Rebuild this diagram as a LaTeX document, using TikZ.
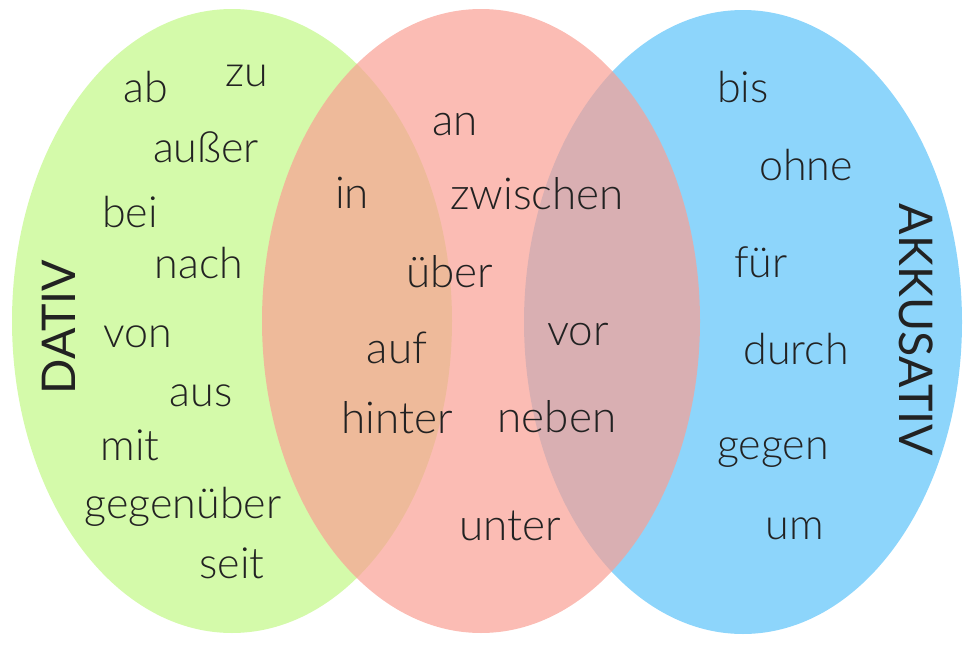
\documentclass[tikz,border=0pt]{standalone}
\usepackage{fontspec}
\setmainfont{Lato}
\newfontfamily\thinfont{Lato Light}
\definecolor{dativgreen}{RGB}{212,250,170}
\definecolor{akkblue}{RGB}{141,213,251}
\definecolor{wechselred}{RGB}{250,160,148}
\definecolor{wordgray}{RGB}{34,34,34}
\begin{document}
\begin{tikzpicture}[x=1pt,y=-1pt,
    word/.style ={anchor=base, text=wordgray, inner sep=0pt, font=\thinfont\fontsize{43}{50}\selectfont},
    bigword/.style ={word, font=\thinfont\fontsize{44}{52}\selectfont},
    casename/.style ={anchor=base, text=wordgray, inner sep=0pt, font=\fontsize{46.5}{54}\selectfont}]
   \useasboundingbox (0,0) rectangle (975,645);
   % circles
   \fill[dativgreen] (232,321) ellipse [x radius=220, y radius=312];
   \fill[akkblue] (743,322) ellipse [x radius=219, y radius=312];
   \fill[wechselred, opacity=0.7] (481,321) ellipse [x radius=219, y radius=312];
   % dativ
   \node[casename, rotate=90] (dativ) at (75,327) {DATIV};
   \node[word] (ab) at (146,102) {ab};
   \node[word] (zu) at (247,86) {zu};
   \node[word] (ausser) at (206,162) {außer};
   \node[word] (bei) at (130,227) {bei};
   \node[word] (nach) at (199,278) {nach};
   \node[word] (von) at (138,347) {von};
   \node[word] (aus) at (201,406) {aus};
   \node[word] (mit) at (130,460) {mit};
   \node[word] (gegenueber) at (183,518) {gegenüber};
   \node[word] (seit) at (232,578) {seit};
   % wechsel
   \node[bigword] (an) at (455,135) {an};
   \node[bigword] (in) at (352,208) {in};
   \node[bigword] (zwischen) at (537,209) {zwischen};
   \node[bigword] (ueber) at (450,287) {über};
   \node[bigword] (auf) at (397,363) {auf};
   \node[bigword] (vor) at (578,345) {vor};
   \node[bigword] (hinter) at (397,433) {hinter};
   \node[bigword] (neben) at (557,432) {neben};
   \node[bigword] (unter) at (510,540) {unter};
   % akkusativ
   \node[casename, rotate=-90] (akkusativ) at (899,330) {AKKUSATIV};
   \node[word] (bis) at (743,102) {bis};
   \node[word] (ohne) at (806,180) {ohne};
   \node[word] (fuer) at (761,277) {für};
   \node[word] (durch) at (796,364) {durch};
   \node[word] (gegen) at (773,459) {gegen};
   \node[word] (um) at (795,539) {um};
\end{tikzpicture}
\end{document}
